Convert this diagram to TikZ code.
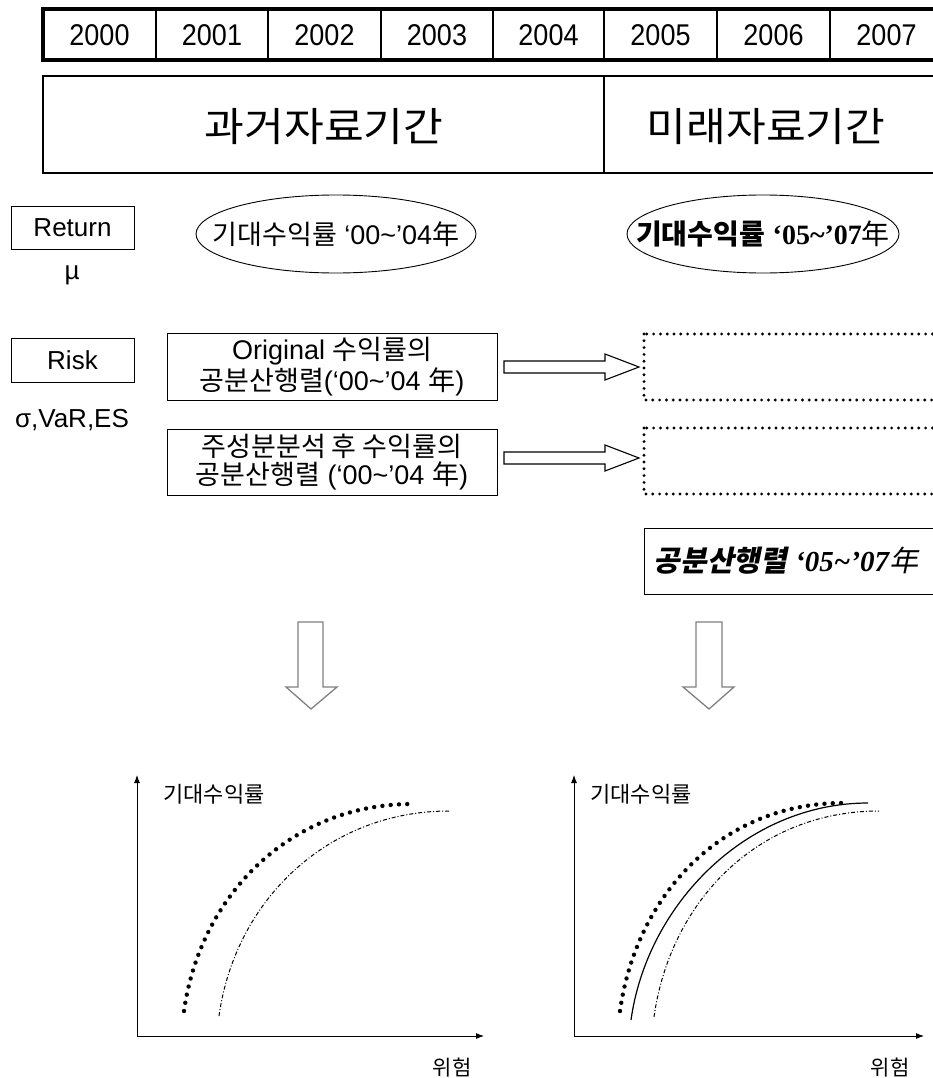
\documentclass[tikz,border=0pt]{standalone}
\usepackage{fontspec}
\usetikzlibrary{arrows.meta,shapes.geometric}
\setmainfont{Liberation Sans}
\newfontfamily\kr{Noto Sans CJK KR}
\newfontfamily\krsl[FakeSlant=0.2]{Noto Sans CJK KR}
\newfontfamily\serifnum{Liberation Serif}
\newcommand{\fsz}[1]{\fontsize{#1}{#1}\selectfont}
\tikzset{
  thickline/.style={line width=3.5pt},
  thinline/.style={line width=1.2pt},
  boxstyle/.style={draw, line width=1pt},
  dotbox/.style={draw, line width=3.2pt, dash pattern=on 0pt off 6.8pt, line cap=round},
  hollowarrow/.style={draw, line width=1.1pt, fill=white, line join=miter},
  greyarrow/.style={draw=black!50, line width=1.3pt, fill=white},
  axisline/.style={line width=0.9pt, -{Latex[length=8pt,width=6pt]}},
  dotcurve/.style={line width=4.4pt, dash pattern=on 0pt off 8.3pt, line cap=round},
  dashdotcurve/.style={line width=1pt, dash pattern=on 4pt off 2pt on 1pt off 2pt},
  solidcurve/.style={line width=1.2pt},
  yeartext/.style={font=\fsz{30}},
  labeltext/.style={font=\fsz{26}},
}
\begin{document}
\begin{tikzpicture}[x=1pt,y=-1pt]
\useasboundingbox (0,0) rectangle (933,1078);
% year table
\foreach \xx in {156,268,381,493,604,717,830}{\draw[thinline] (\xx,9) -- (\xx,60);}
\draw[thickline] (945,9) -- (43,9) -- (43,60) -- (945,60);
\foreach \yr/\cx in {2000/99.5,2001/212,2002/324.5,2003/437,2004/548.5,2005/660.5,2006/773.5,2007/886.5}{
  \node[yeartext] (y\yr) at (\cx,35) {\scalebox{0.9}[1]{\yr}};}
% period box
\draw[thinline] (945,76) -- (43,76) -- (43,173) -- (945,173);
\draw[thinline] (604,76) -- (604,173);
\node[font=\kr\fsz{40}] (past) at (324,127) {\scalebox{1.08}[1]{과거자료기간}};
\node[font=\kr\fsz{40}] (future) at (766,127) {\scalebox{1.08}[1]{미래자료기간}};
% return row
\node[boxstyle, minimum width=123pt, minimum height=43pt, labeltext] (ret) at (72.5,227.5) {Return};
\node[labeltext] (mu) at (72,275) {µ};
\node[draw, line width=0.9pt, ellipse, minimum width=280pt, minimum height=78pt, inner sep=0pt] (e1) at (336,234) {};
\node (e1t) at (e1.center) {\fsz{27}{\kr 기대수익률} ‘00\textasciitilde’04{\kr 年}};
\node[draw, line width=0.9pt, ellipse, minimum width=272pt, minimum height=78pt, inner sep=0pt] (e2) at (763,234) {};
\node (e2t) at (e2.center) {\fsz{28}{\kr\bfseries 기대수익률} {\serifnum\bfseries ‘05\textasciitilde’07}{\kr 年}};
% risk row
\node[boxstyle, minimum width=123pt, minimum height=44pt, labeltext] (risk) at (72.5,360) {Risk};
\node[labeltext] (sig) at (72,420) {σ,VaR,ES};
\node[boxstyle, minimum width=330pt, minimum height=67pt, align=center, font=\fsz{27}] (b1) at (332,366.5)
  {Original {\kr 수익률의}\\[1pt]{\kr 공분산행렬}(‘00\textasciitilde’04 {\kr 年})};
\node[boxstyle, minimum width=330pt, minimum height=66pt, align=center, font=\fsz{27}] (b2) at (332,462)
  {{\kr 주성분분석 후 수익률의}\\[1pt]{\kr 공분산행렬} (‘00\textasciitilde’04 {\kr 年})};
\coordinate (d1a) at (644,334); \coordinate (d1b) at (950,400);
\coordinate (d2a) at (644,428); \coordinate (d2b) at (950,494);
\draw[dotbox] (d1a) rectangle (d1b);
\draw[dotbox] (d2a) rectangle (d2b);
% hollow right arrows
\draw[hollowarrow] (504,361) -- (605,361) -- (605,354) -- (639,367) -- (605,380) -- (605,373) -- (504,373) -- cycle;
\draw[hollowarrow] (504,452) -- (605,452) -- (605,445) -- (639,458) -- (605,471) -- (605,464) -- (504,464) -- cycle;
% future covariance box
\node[draw, line width=1pt, minimum width=306pt, minimum height=66pt, anchor=west] (cov) at (644,561) {};
\node (covt) at (786,561) {\fsz{29}{\krsl\bfseries 공분산행렬} {\serifnum\itshape\bfseries ‘05\textasciitilde’07}{\krsl 年}};
% grey down arrows
\draw[greyarrow] (298,622) -- (323,622) -- (323,687) -- (337,687) -- (311,709) -- (286,687) -- (298,687) -- cycle;
\draw[greyarrow] (696,622) -- (722,622) -- (722,687) -- (734,687) -- (709,709) -- (683,687) -- (696,687) -- cycle;
% left chart
\coordinate (o1) at (137,1036);
\coordinate (y1) at (137,775);
\coordinate (x1) at (484,1036);
\draw[axisline] (o1) -- (y1);
\draw[axisline] (o1) -- (x1);
\node[font=\kr\fsz{22}] (ylab1) at (214,794) {기대수익률};
\node[font=\kr\fsz{21}] (xlab1) at (452,1068) {위험};
\draw[dotcurve] (184,1011) .. controls (200,896) and (290,804) .. (412,804);
\draw[dashdotcurve] (219,1016) .. controls (235,901) and (327,811) .. (449,811);
% right chart
\coordinate (o2) at (574,1036);
\coordinate (y2) at (574,775);
\coordinate (x2) at (924,1036);
\draw[axisline] (o2) -- (y2);
\draw[axisline] (o2) -- (x2);
\node[font=\kr\fsz{22}] (ylab2) at (641,794) {기대수익률};
\node[font=\kr\fsz{21}] (xlab2) at (890,1068) {위험};
\draw[dotcurve] (620,1011) .. controls (636,896) and (721,803) .. (843,803);
\draw[solidcurve] (631,1020) .. controls (647,905) and (746,803) .. (868,803);
\draw[dashdotcurve] (654,1017) .. controls (670,902) and (757,811) .. (879,811);
\end{tikzpicture}
\end{document}
